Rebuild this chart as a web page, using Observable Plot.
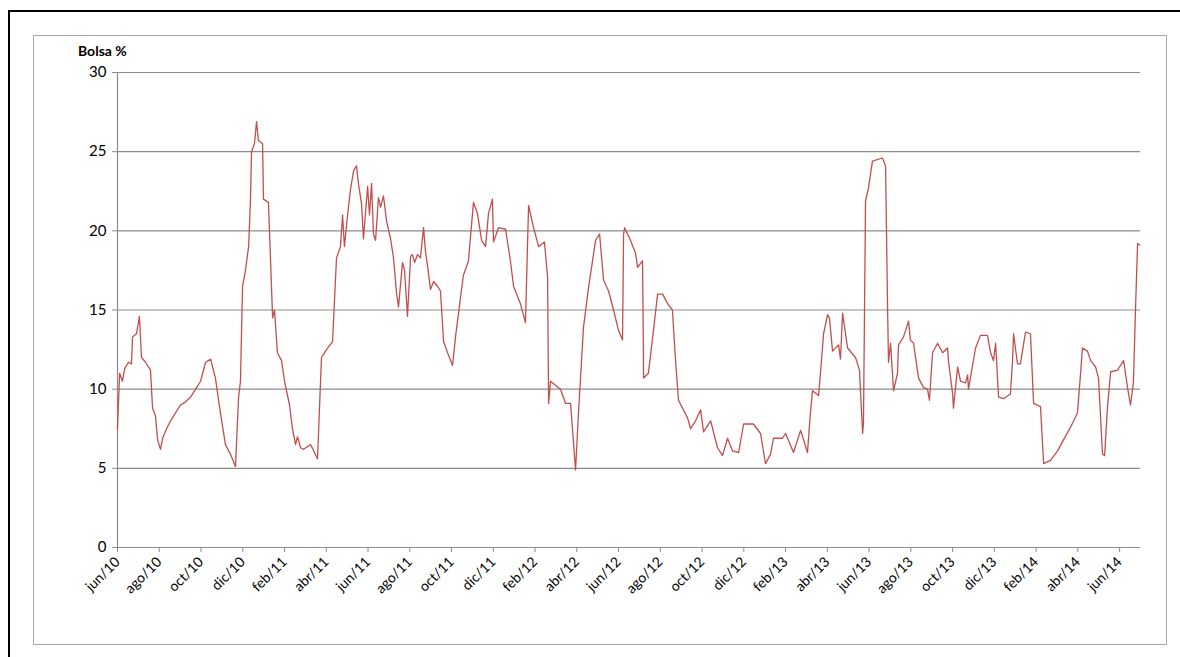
<!DOCTYPE html>
<html>
<head>
<meta charset="utf-8">
<script src="https://cdn.jsdelivr.net/npm/d3@7"></script>
<script src="https://cdn.jsdelivr.net/npm/@observablehq/plot@0.6"></script>
<style>
  body { margin: 0; background: #fff; font-family: Lato, sans-serif; }
  #wrap { position: relative; width: 1180px; height: 657px; }
  #outer { position: absolute; left: 8px; top: 10px; width: 1180px; height: 660px; border: 2px solid #000; box-sizing: border-box; }
  #inner { position: absolute; left: 33px; top: 35px; width: 1134px; height: 610px; border: 1px solid #a6a6a6; box-sizing: border-box; }
  #ylab { position: absolute; left: 78px; top: 42px; font-weight: bold; font-size: 14px; }
  #chart { position: absolute; left: 0; top: 0; }
</style>
</head>
<body>
<div id="wrap">
  <div id="outer"></div>
  <div id="inner"></div>
  <div id="ylab">Bolsa %</div>
  <div id="chart"></div>
</div>
<script>
// meses desde jun/10
const meses = [0,0.10,0.24,0.34,0.53,0.67,0.72,0.91,1.05,1.15,1.34,1.58,1.68,1.82,1.92,2.06,2.16,2.35,2.54,2.78,3.02,3.26,3.50,3.74,3.98,4.22,4.46,4.69,4.93,5.17,5.41,5.65,5.80,5.89,5.99,6.13,6.28,6.37,6.42,6.56,6.66,6.75,6.95,6.99,7.23,7.43,7.52,7.66,7.86,8.00,8.24,8.38,8.53,8.62,8.77,8.91,9.25,9.58,9.77,9.87,10.01,10.30,10.49,10.68,10.78,10.87,11.02,11.16,11.31,11.45,11.54,11.69,11.78,11.98,12.07,12.17,12.26,12.36,12.50,12.60,12.74,12.89,13.08,13.22,13.37,13.46,13.65,13.75,13.89,14.04,14.13,14.23,14.37,14.51,14.66,14.75,14.85,14.99,15.14,15.33,15.47,15.62,15.81,16.05,16.19,16.43,16.57,16.81,17.05,17.24,17.44,17.63,17.77,17.96,18.01,18.25,18.59,18.83,18.97,19.30,19.54,19.69,19.93,20.17,20.45,20.60,20.65,20.74,21.22,21.46,21.70,21.94,22.08,22.32,22.56,22.90,23.09,23.28,23.52,23.76,24.00,24.19,24.24,24.29,24.57,24.81,24.91,25.15,25.20,25.43,25.67,25.87,26.11,26.35,26.58,26.73,26.87,27.30,27.45,27.69,27.93,28.07,28.41,28.74,28.98,29.22,29.46,29.75,29.99,30.46,30.80,31.04,31.28,31.42,31.85,32.00,32.38,32.72,33.05,33.19,33.29,33.58,33.67,33.82,34.01,34.10,34.25,34.54,34.63,34.73,34.97,35.35,35.54,35.69,35.73,35.83,35.97,36.16,36.64,36.79,36.88,36.93,37.03,37.17,37.36,37.41,37.65,37.89,37.98,38.13,38.37,38.61,38.80,38.89,39.04,39.28,39.52,39.76,39.80,40.00,40.04,40.24,40.38,40.62,40.72,40.76,41.10,41.34,41.67,41.82,41.96,42.06,42.20,42.44,42.77,42.87,42.92,43.11,43.25,43.49,43.73,43.88,44.21,44.36,44.69,45.03,45.31,45.65,45.98,46.13,46.22,46.46,46.61,46.85,46.99,47.18,47.28,47.42,47.57,47.90,48.19,48.38,48.52,48.66,48.76,48.86,48.95];
const bolsa = [7.5,11,10.5,11.3,11.7,11.6,13.3,13.5,14.6,12,11.7,11.2,8.8,8.3,6.8,6.2,6.9,7.5,8.0,8.5,9,9.2,9.5,10,10.5,11.7,11.9,10.7,8.5,6.5,5.9,5.1,9.5,10.5,16.5,17.5,19,22,25,25.5,26.9,25.7,25.5,22,21.8,14.5,15,12.3,11.8,10.5,9,7.5,6.5,7,6.3,6.2,6.5,5.6,12,12.2,12.5,13,18.3,19,21,19,21,22.6,23.8,24.1,23,21.7,19.5,22.8,21,23,19.8,19.4,22.1,21.5,22.2,20.6,19.5,18.3,16,15.2,18,17.5,14.6,18.4,18.5,18,18.5,18.3,20.2,18.7,17.8,16.3,16.8,16.5,16.2,13,12.3,11.5,13.3,15.8,17.2,18.1,21.8,21.1,19.4,19,21.1,22.0,19.3,20.2,20.1,18,16.5,15.4,14.2,21.6,20.2,19,19.3,17.1,9.1,10.5,10,9.1,9.1,4.9,8.5,13.9,16.4,19.4,19.8,16.9,16.2,15,13.7,13.1,19.8,20.2,19.4,18.6,17.7,18.1,10.7,11,13.7,16,16,15.4,15,11.8,9.3,8.2,7.5,8,8.7,7.3,8,6.3,5.8,6.9,6.1,6.0,7.8,7.8,7.2,5.3,5.9,6.9,6.9,7.2,6.0,7.4,6.0,8.5,9.9,9.6,11,13.5,14.7,14.5,12.4,12.8,11.9,14.8,12.6,12,11.2,7.2,7.8,21.9,22.7,24.4,24.6,24.1,15.6,11.7,12.9,9.9,11,12.8,13.3,14.3,13.1,12.9,10.7,10.1,10,9.3,12.3,12.9,12.3,12.6,11.8,9.7,8.8,11.4,10.5,10.4,10.9,10,12.6,13.4,13.4,12.3,11.8,12.9,9.5,9.4,9.7,11.8,13.5,11.6,11.6,13.6,13.5,9.1,8.9,5.3,5.5,6.1,6.8,7.6,8.5,11,12.6,12.4,11.8,11.4,10.7,5.9,5.8,8.9,11.1,11.2,11.8,10.1,9,10.4,15,19.2,19.1];
const tickMeses = [0,2,4,6,8,10,12,14,16,18,20,22,24,26,28,30,32,34,36,38,40,42,44,46,48];
const tickLabels = ["jun/10","ago/10","oct/10","dic/10","feb/11","abr/11","jun/11","ago/11","oct/11","dic/11","feb/12","abr/12","jun/12","ago/12","oct/12","dic/12","feb/13","abr/13","jun/13","ago/13","oct/13","dic/13","feb/14","abr/14","jun/14"];
const yTicks = [0,5,10,15,20,25,30];

const data = meses.map((m, i) => ({mes: m, bolsa: bolsa[i]}));

const chart = Plot.plot({
  width: 1180,
  height: 657,
  marginLeft: 117,
  marginRight: 40,
  marginTop: 72,
  marginBottom: 110,
  style: {fontFamily: "Lato, sans-serif", fontSize: "14px", color: "#000", background: "transparent"},
  x: {domain: [0, 49], ticks: tickMeses, tickFormat: (d, i) => tickLabels[i], tickRotate: -45, tickSize: 5, label: null},
  y: {domain: [0, 30], ticks: yTicks, tickSize: 5, label: null},
  marks: [
    Plot.ruleY(yTicks.filter(d => d > 0), {stroke: "#8c8c8c", strokeWidth: 1.2}),
    Plot.ruleY([0], {stroke: "#8c8c8c", strokeWidth: 1.2}),
    Plot.ruleX([0], {stroke: "#8c8c8c", strokeWidth: 1.2}),
    Plot.axisY({ticks: yTicks, tickSize: 5, stroke: "#8c8c8c", fontSize: 15, tickPadding: 6}),
    Plot.axisX({ticks: tickMeses, tickFormat: (d, i) => tickLabels[i], tickRotate: -45, tickSize: 5, stroke: "#8c8c8c", fontSize: 14, tickPadding: 7}),
    Plot.line(data, {x: "mes", y: "bolsa", stroke: "#c0504d", strokeWidth: 1.3})
  ]
});
document.getElementById("chart").append(chart);
</script>
</body>
</html>
